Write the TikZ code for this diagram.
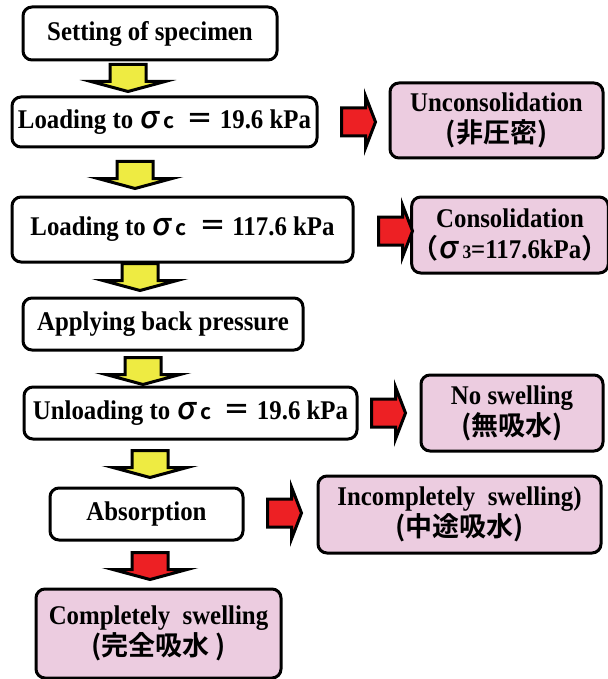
\documentclass[tikz,border=0pt]{standalone}
\usepackage{fontspec}
\setmainfont{Liberation Serif}[FakeStretch=0.92]
\newfontfamily\cjk{Noto Sans CJK JP}[BoldFont={* Bold}]
\newfontfamily\sigfont{Noto Sans CJK JP Medium}[FakeSlant=0.12]
\usetikzlibrary{calc}

\definecolor{pinkbox}{RGB}{236,204,224}
\definecolor{arrowyellow}{RGB}{238,235,66}
\definecolor{arrowred}{RGB}{237,32,36}

\newcommand{\thinsig}{{\sigfont\mdseries\fontsize{31}{31}\selectfont σ}}
\newcommand{\sigc}{\thinsig\,{\cjk\fontsize{21}{21}\selectfont c}}
\newcommand{\bigeq}{{\cjk\fontsize{27}{27}\selectfont ＝}}

\tikzset{
  stepbox/.style={draw, line width=3pt, rounded corners=9pt, fill=white,
    inner sep=0pt, align=center, font=\fontsize{27}{31}\selectfont\bfseries},
  resultbox/.style={stepbox, fill=pinkbox},
  yarrow/.style={draw, line width=3pt, fill=arrowyellow, line join=miter},
  rarrow/.style={yarrow, fill=arrowred},
  downarr/.pic={\path[pic actions] (-18,0) -- (18,0) -- (18,17) -- (37,17)
    -- (0,27) -- (-37,17) -- (-18,17) -- cycle;},
  rightarr/.pic={\path[pic actions] (0,-14) -- (24,-14) -- (24,-26) -- (34,0)
    -- (24,26) -- (24,14) -- (0,14) -- cycle;}
}

\begin{document}
\begin{tikzpicture}[x=1pt, y=-1pt]
    \useasboundingbox (0,0) rectangle (607,679);

    % Main steps
    \node[stepbox, minimum width=254pt, minimum height=53pt] (set) at (150,33.5)
        {Setting of specimen};
    \node[stepbox, minimum width=305pt, minimum height=50pt] (load1) at (164.5,122)
        {Loading to \sigc\ \ \bigeq\ 19.6 kPa};
    \node[stepbox, minimum width=341pt, minimum height=65pt] (load2) at (182.5,229.5)
        {Loading to \sigc\ \ \bigeq\ 117.6 kPa};
    \node[stepbox, minimum width=280pt, minimum height=52pt] (apply) at (163,324)
        {Applying back pressure};
    \node[stepbox, minimum width=333pt, minimum height=52pt] (unload) at (190.5,413)
        {Unloading to \sigc\ \ \bigeq\ 19.6 kPa};
    \node[stepbox, minimum width=193pt, minimum height=52pt] (absorb) at (146.5,514)
        {Absorption};

    % Results
    \node[resultbox, minimum width=213pt, minimum height=75pt] (uncon) at (496.5,120.5)
        {Unconsolidation\\{\cjk (非圧密)}};
    \node[resultbox, minimum width=190pt, minimum height=76pt] (consol) at (510,235)
        {Consolidation\\{\cjk （}\thinsig\,{\fontsize{19}{19}\selectfont 3}=117.6kPa{\cjk ）}};
    \node[resultbox, minimum width=182pt, minimum height=76pt] (noswell) at (512,413)
        {No swelling\\{\cjk (無吸水)}};
    \node[resultbox, minimum width=283pt, minimum height=77pt] (incomp) at (459.5,514.5)
        {Incompletely\ \ swelling)\\{\cjk (中途吸水)}};
    \node[resultbox, minimum width=245pt, minimum height=89pt] (comp) at (158.5,633.5)
        {Completely\ \ swelling\\{\cjk (完全吸水 )}};

    % Block arrows down
    \pic[yarrow] at ($(set.south)+(-22,3)$) {downarr};
    \pic[yarrow] at ($(load1.south)+(-29.5,13)$) {downarr};
    \pic[yarrow] at ($(load2.south)+(-42.5,0)$) {downarr};
    \pic[yarrow] at ($(apply.south)+(-20,6)$) {downarr};
    \pic[yarrow] at ($(unload.south)+(-40.5,10)$) {downarr};
    \pic[rarrow] at ($(absorb.south)+(3.5,11)$) {downarr};

    % Block arrows right
    \pic[rarrow] at ($(load1.east)+(23,0)$) {rightarr};
    \pic[rarrow] at ($(load2.east)+(24,1.5)$) {rightarr};
    \pic[rarrow] at ($(unload.east)+(13,0)$) {rightarr};
    \pic[rarrow] at ($(absorb.east)+(23,-1)$) {rightarr};
\end{tikzpicture}
\end{document}
